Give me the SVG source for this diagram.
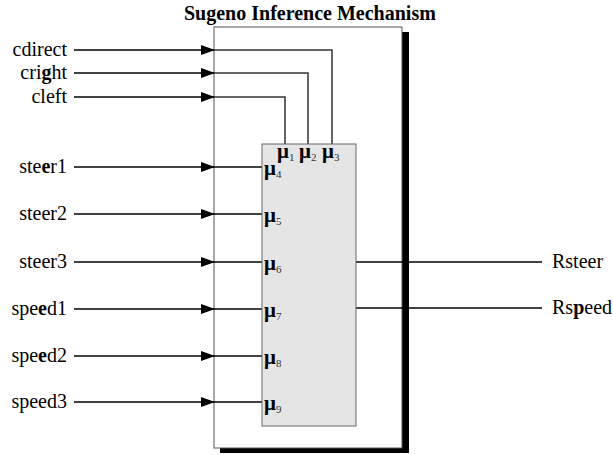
<svg xmlns="http://www.w3.org/2000/svg" width="613" height="455" viewBox="0 0 613 455">
  <style>
    .lbl { font-family: "Liberation Serif", "Times New Roman", serif; font-size: 20px; fill: #000; }
    .title { font-family: "Liberation Serif", "Times New Roman", serif; font-size: 20px; font-weight: bold; fill: #000; }
    .mu { font-family: "Liberation Serif", "Times New Roman", serif; font-size: 21px; font-weight: bold; fill: #000; }
    .sub { font-family: "Liberation Serif", "Times New Roman", serif; font-size: 11px; fill: #333; }
    .wire { stroke: #000; stroke-width: 1.5; fill: none; }
    .wire-in { stroke: #333; stroke-width: 1.5; fill: none; }
    .b { font-weight: bold; }
  </style>
  <defs>
    <marker id="arrow" markerWidth="14" markerHeight="10" refX="13" refY="5" orient="auto" markerUnits="userSpaceOnUse">
      <path d="M0,0 L14,5 L0,10 Z" fill="#000"/>
    </marker>
  </defs>
  <rect width="613" height="455" fill="#fff"/>

  <!-- title -->
  <text class="title" x="184" y="20">Sugeno Inference Mechanism</text>

  <!-- outer inference block with drop shadow -->
  <g id="sugeno-block">
    <rect x="220" y="32" width="189" height="421" fill="#000"/>
    <rect x="214" y="27" width="188" height="421" fill="#fff" stroke="#555" stroke-width="1"/>
  </g>

  <!-- connectors -->
  <g id="connectors">
    <!-- consequent inputs routed to the top of the membership block -->
    <line class="wire" x1="74" y1="50" x2="214" y2="50" marker-end="url(#arrow)"/>
    <polyline class="wire-in" points="214,50 332,50 332,144"/>
    <line class="wire" x1="74" y1="73" x2="214" y2="73" marker-end="url(#arrow)"/>
    <polyline class="wire-in" points="214,73 308,73 308,144"/>
    <line class="wire" x1="74" y1="97" x2="214" y2="97" marker-end="url(#arrow)"/>
    <polyline class="wire-in" points="214,97 285,97 285,144"/>

    <!-- antecedent inputs -->
    <line class="wire" x1="74" y1="167" x2="214" y2="167" marker-end="url(#arrow)"/>
    <line class="wire" x1="214" y1="167" x2="262" y2="167"/>
    <line class="wire" x1="74" y1="214" x2="214" y2="214" marker-end="url(#arrow)"/>
    <line class="wire" x1="214" y1="214" x2="262" y2="214"/>
    <line class="wire" x1="74" y1="262" x2="214" y2="262" marker-end="url(#arrow)"/>
    <line class="wire" x1="214" y1="262" x2="262" y2="262"/>
    <line class="wire" x1="74" y1="309" x2="214" y2="309" marker-end="url(#arrow)"/>
    <line class="wire" x1="214" y1="309" x2="262" y2="309"/>
    <line class="wire" x1="74" y1="356" x2="214" y2="356" marker-end="url(#arrow)"/>
    <line class="wire" x1="214" y1="356" x2="262" y2="356"/>
    <line class="wire" x1="74" y1="402" x2="214" y2="402" marker-end="url(#arrow)"/>
    <line class="wire" x1="214" y1="402" x2="262" y2="402"/>

    <!-- outputs -->
    <line class="wire" x1="356" y1="262" x2="542" y2="262"/>
    <line class="wire" x1="356" y1="308" x2="542" y2="308"/>
  </g>

  <!-- membership block -->
  <g id="membership-block">
    <rect x="262" y="144" width="94" height="282" fill="#e5e5e5" stroke="#666" stroke-width="1"/>
    <text class="mu" x="277" y="158">μ</text><text class="sub" x="289" y="161">1</text>
    <text class="mu" x="299" y="158">μ</text><text class="sub" x="311" y="161">2</text>
    <text class="mu" x="322" y="158">μ</text><text class="sub" x="334" y="161">3</text>
    <text class="mu" x="264" y="175">μ</text><text class="sub" x="276" y="178">4</text>
    <text class="mu" x="264" y="222">μ</text><text class="sub" x="276" y="225">5</text>
    <text class="mu" x="264" y="270">μ</text><text class="sub" x="276" y="273">6</text>
    <text class="mu" x="264" y="317">μ</text><text class="sub" x="276" y="320">7</text>
    <text class="mu" x="264" y="364">μ</text><text class="sub" x="276" y="367">8</text>
    <text class="mu" x="264" y="410">μ</text><text class="sub" x="276" y="413">9</text>
  </g>

  <!-- input signals -->
  <g id="in-cdirect"><text class="lbl" x="67" y="56" text-anchor="end">cdirect</text></g>
  <g id="in-cright"><text class="lbl" x="67" y="79" text-anchor="end">cri<tspan class="b">g</tspan>ht</text></g>
  <g id="in-cleft"><text class="lbl" x="67" y="103" text-anchor="end">cleft</text></g>
  <g id="in-steer1"><text class="lbl" x="67" y="173" text-anchor="end">ste<tspan class="b">e</tspan>r1</text></g>
  <g id="in-steer2"><text class="lbl" x="67" y="220" text-anchor="end">steer2</text></g>
  <g id="in-steer3"><text class="lbl" x="67" y="268" text-anchor="end">steer3</text></g>
  <g id="in-speed1"><text class="lbl" x="67" y="315" text-anchor="end">spe<tspan class="b">e</tspan>d1</text></g>
  <g id="in-speed2"><text class="lbl" x="67" y="362" text-anchor="end">spe<tspan class="b">e</tspan>d2</text></g>
  <g id="in-speed3"><text class="lbl" x="67" y="408" text-anchor="end">speed3</text></g>

  <!-- output signals -->
  <g id="out-rsteer"><text class="lbl" x="552" y="268">Rsteer</text></g>
  <g id="out-rspeed"><text class="lbl" x="552" y="314">Rs<tspan class="b">p</tspan>eed</text></g>
</svg>
